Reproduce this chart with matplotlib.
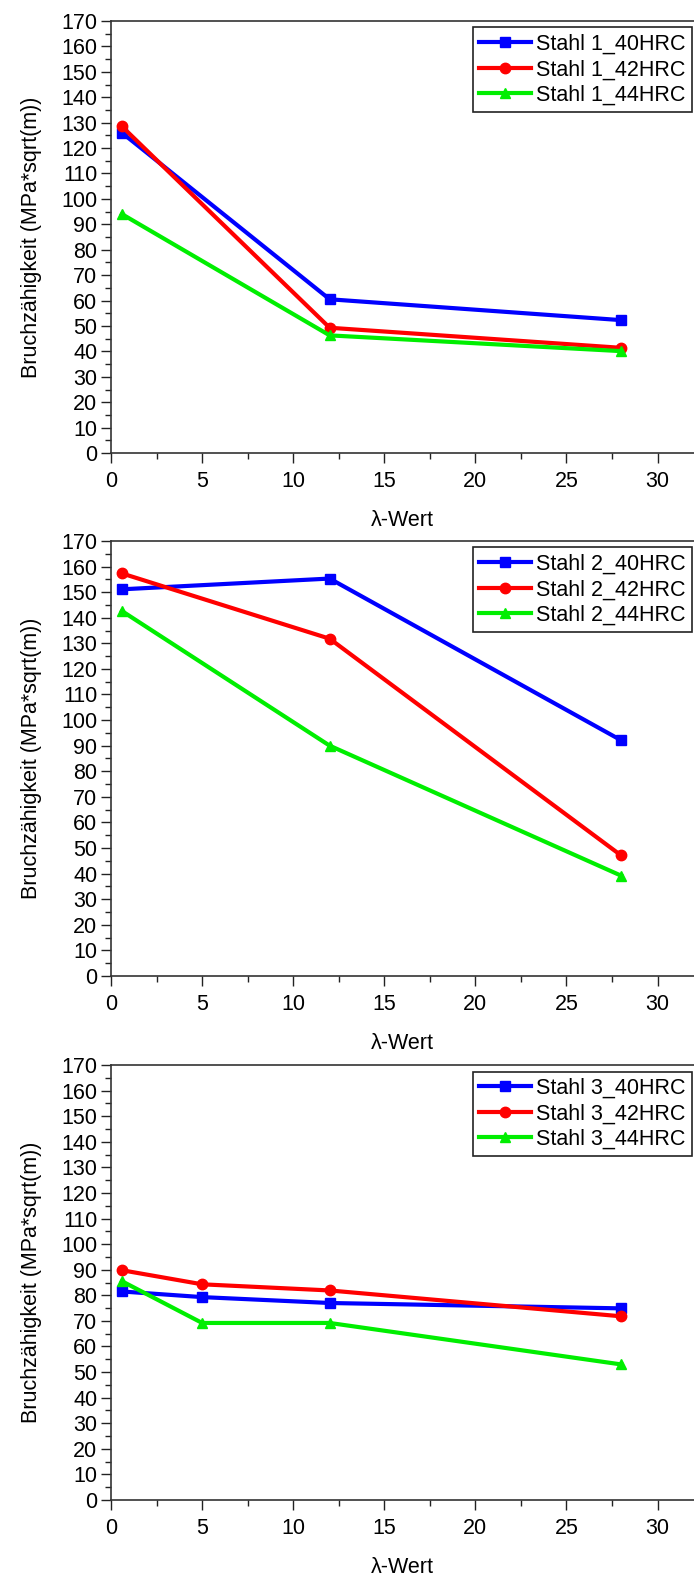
import matplotlib
matplotlib.use("Agg")
import matplotlib.pyplot as plt
from matplotlib.ticker import MultipleLocator

plt.rcParams['font.family'] = ['Liberation Sans', 'DejaVu Sans']

# lambda values per steel
x_12 = [0.6, 12, 28]
x_3 = [0.6, 5, 12, 28]

# Stahl 1
s1_40 = [126, 60.5, 52.3]
s1_42 = [128.5, 49.3, 41.4]
s1_44 = [94, 46.3, 40.1]

# Stahl 2
s2_40 = [151.1, 155.3, 92.1]
s2_42 = [157.3, 131.8, 47.1]
s2_44 = [142.6, 90.0, 39.2]

# Stahl 3
s3_40 = [81.5, 79.3, 77.0, 74.9]
s3_42 = [89.8, 84.3, 81.9, 71.8]
s3_44 = [85.5, 69.2, 69.2, 53.0]

hrc = ["40HRC", "42HRC", "44HRC"]
colors = ['#0000ff', '#ff0000', '#00ee00']
markers = ['s', 'o', '^']

panels = [
    (1, x_12, [s1_40, s1_42, s1_44]),
    (2, x_12, [s2_40, s2_42, s2_44]),
    (3, x_3, [s3_40, s3_42, s3_44]),
]

# axes boxes in figure fractions: left, bottom, width, height
boxes = [
    [0.16, 0.7129, 0.84, 0.2738],
    [0.16, 0.3815, 0.84, 0.2757],
    [0.16, 0.0494, 0.84, 0.2757],
]

fs = 15.5

fig = plt.figure(figsize=(6.94, 15.78), dpi=100)

for (num, xs, series), box in zip(panels, boxes):
    ax = fig.add_axes(box)
    for ys, c, m, h in zip(series, colors, markers, hrc):
        ax.plot(xs, ys, color=c, marker=m, markersize=7.5, linewidth=3,
                label="Stahl {0}_{1}".format(num, h))
    ax.set_xlim(0, 32)
    ax.set_ylim(0, 170)
    ax.xaxis.set_major_locator(MultipleLocator(5))
    ax.xaxis.set_minor_locator(MultipleLocator(2.5))
    ax.yaxis.set_major_locator(MultipleLocator(10))
    ax.yaxis.set_minor_locator(MultipleLocator(5))
    ax.tick_params(which='major', direction='out', length=7, width=1,
                   labelsize=fs, color='#222222')
    ax.tick_params(which='minor', direction='out', length=4, width=1,
                   color='#222222')
    ax.tick_params(axis='x', pad=6)
    ax.tick_params(axis='y', pad=3)
    for side in ['left', 'bottom', 'top']:
        ax.spines[side].set_color('#333333')
        ax.spines[side].set_linewidth(1.2)
    ax.spines['right'].set_visible(False)
    ax.set_xlabel("λ-Wert", fontsize=fs, labelpad=13)
    ax.set_ylabel("Bruchzähigkeit (MPa*sqrt(m))", fontsize=fs, labelpad=14)
    leg = ax.legend(loc='upper right', bbox_to_anchor=(0.997, 0.985),
                    fontsize=fs, fancybox=False, framealpha=1,
                    handlelength=2.4, handletextpad=0.25, labelspacing=0.2,
                    borderpad=0.3, borderaxespad=0)
    leg.get_frame().set_edgecolor('#222222')
    leg.get_frame().set_linewidth(1.2)

fig.savefig("out.png", dpi=100)
